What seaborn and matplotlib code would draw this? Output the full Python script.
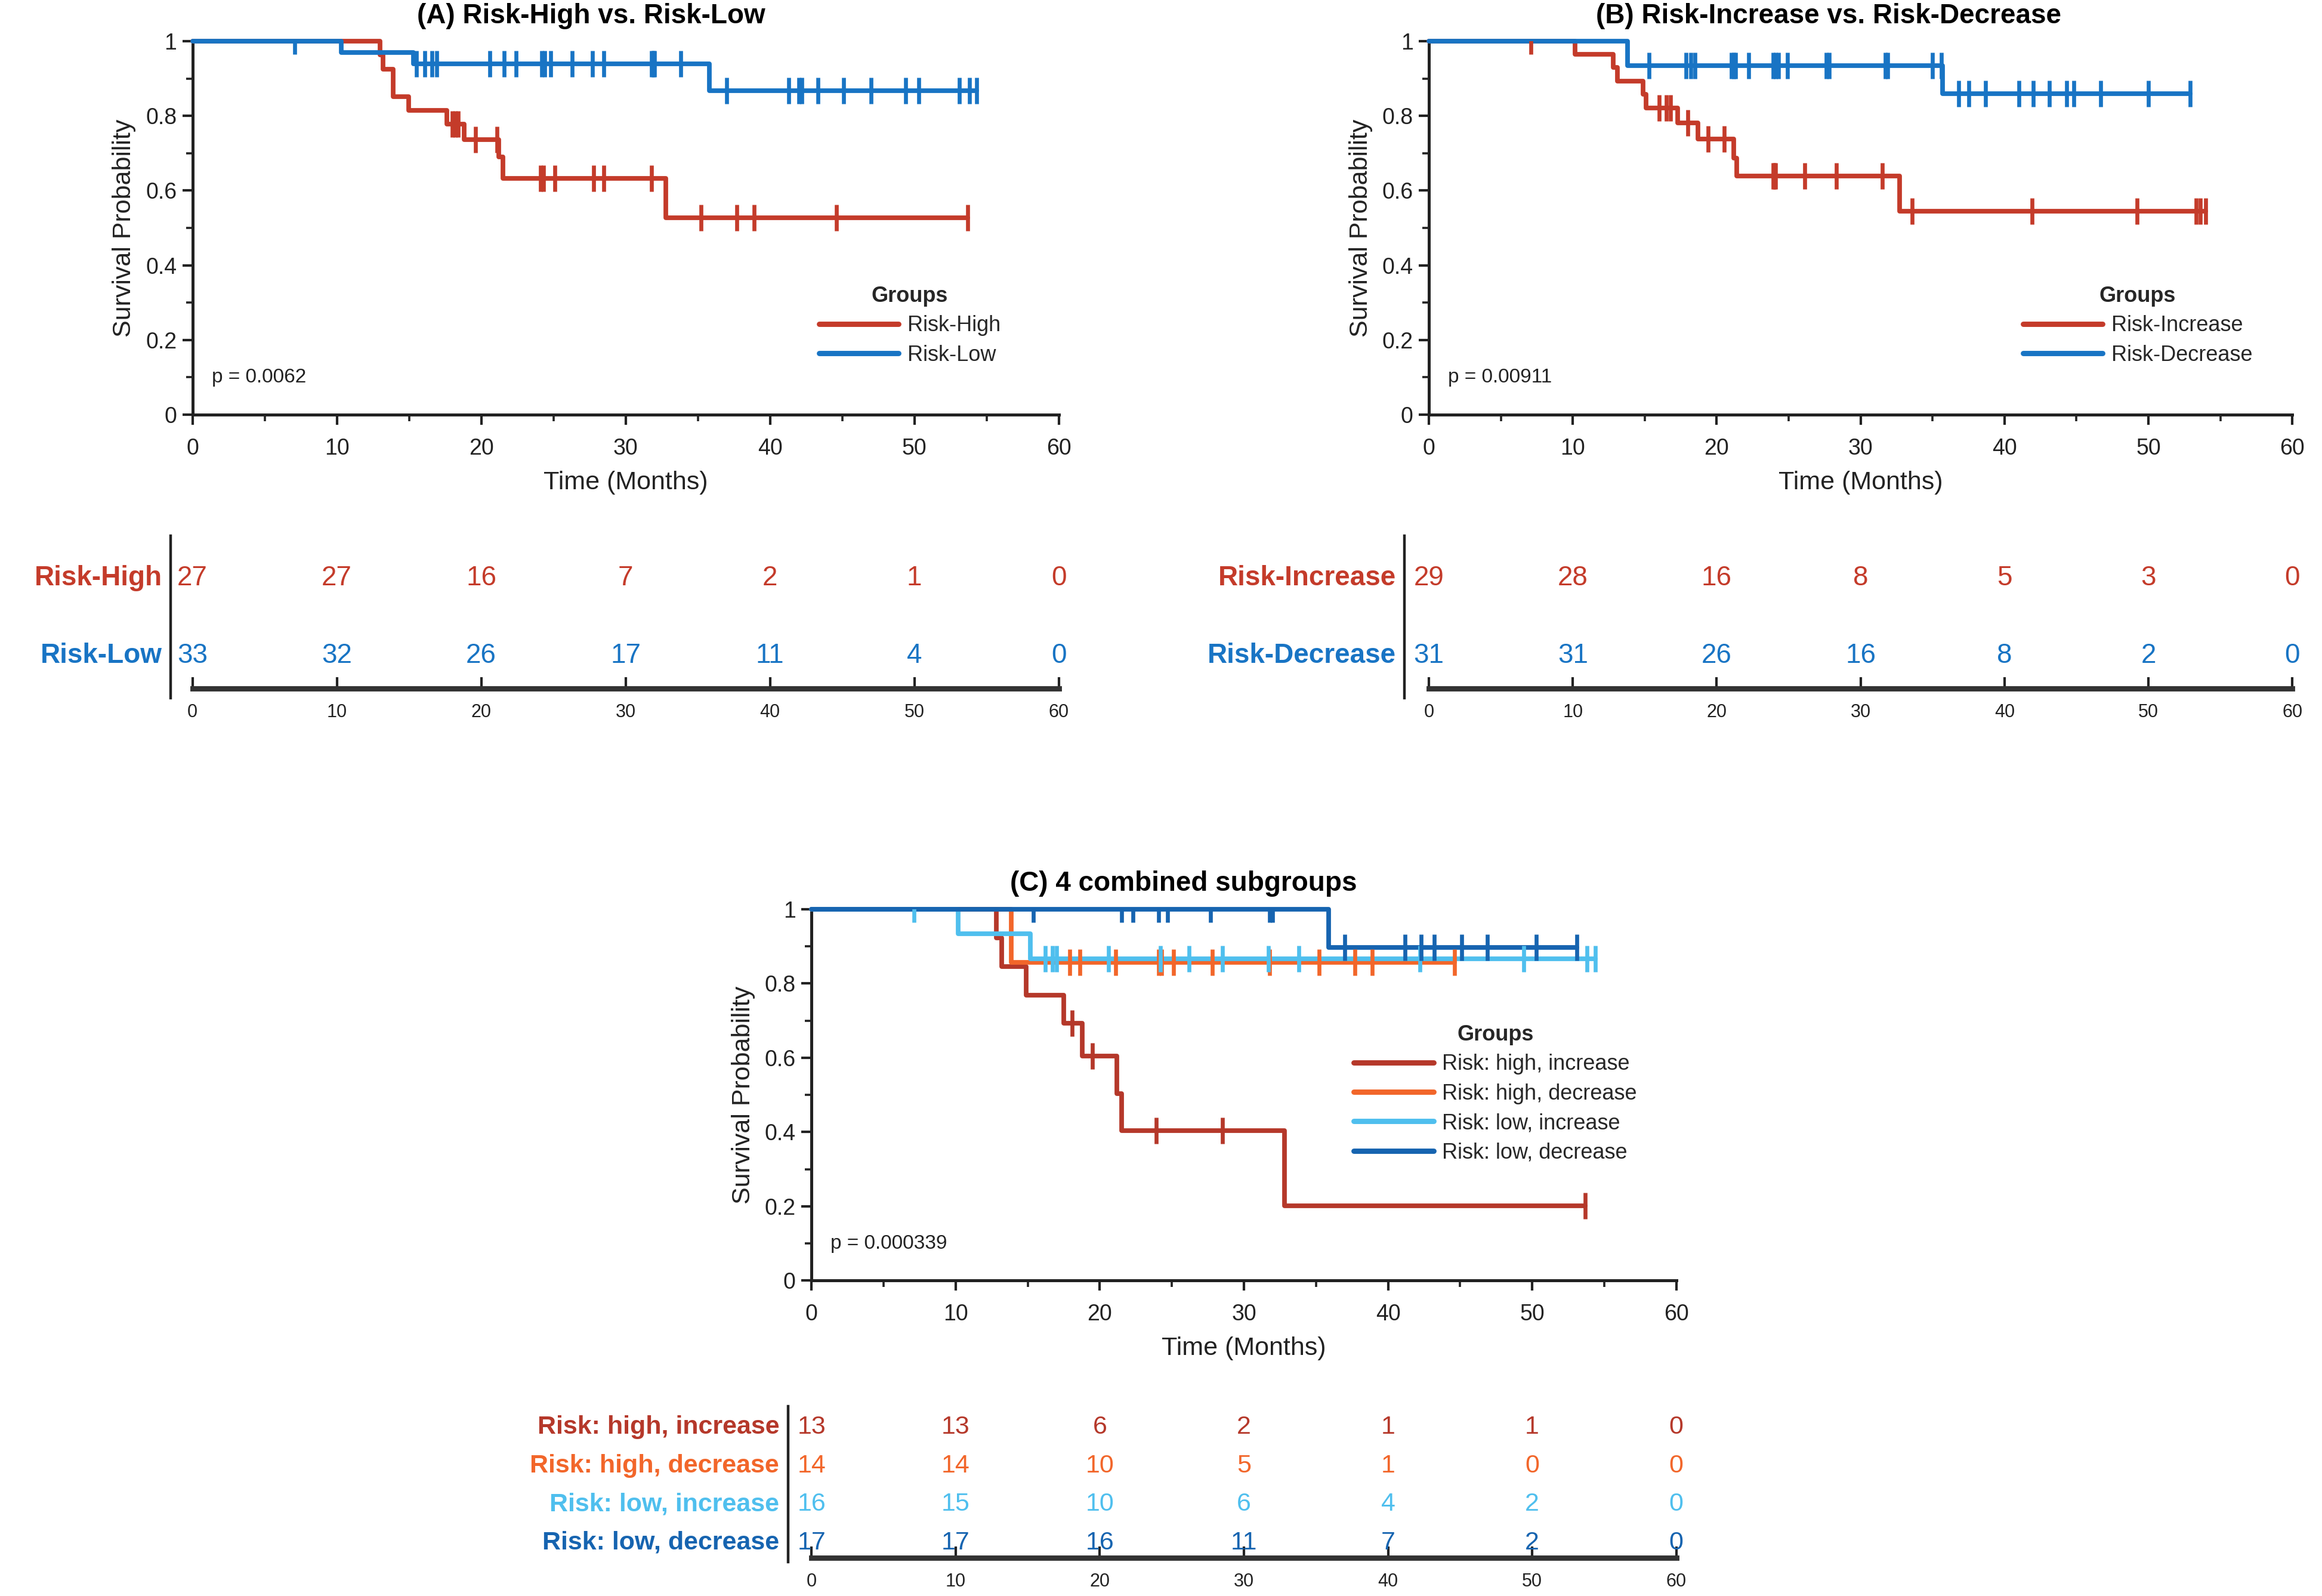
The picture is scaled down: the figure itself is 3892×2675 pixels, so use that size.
import numpy as np
import pandas as pd
import matplotlib.pyplot as plt
import seaborn as sns
from matplotlib.ticker import MultipleLocator, FuncFormatter

# ---- Panel A : Risk-High vs Risk-Low (event times, survival after each step, censor times) ----
high_t = [0, 12.97, 13.2, 13.9, 14.96, 17.6, 18.8, 21.2, 21.5, 32.8]
high_s = [1, 0.963, 0.926, 0.852, 0.815, 0.778, 0.736, 0.69, 0.633, 0.527]
high_cens = [18.0, 18.2, 18.4, 19.6, 21.1, 24.1, 24.3, 25.1, 27.8, 28.5, 31.8,
             35.2, 37.7, 38.9, 44.6, 53.7]
low_t = [0, 10.3, 15.3, 35.8]
low_s = [1, 0.970, 0.939, 0.868]
low_cens = [7.1, 15.5, 16.1, 16.6, 16.9, 20.6, 21.6, 22.4, 24.2, 24.4, 24.8, 26.3,
            27.7, 28.5, 31.8, 31.9, 32.0, 33.8, 37.0, 41.3, 42.0, 42.2, 43.3, 45.1,
            47.0, 49.4, 50.3, 53.1, 53.8, 54.3]

# ---- Panel B : Risk-Increase vs Risk-Decrease ----
inc_t = [0, 10.15, 12.8, 13.1, 14.9, 15.1, 17.3, 18.7, 21.2, 21.4, 32.7]
inc_s = [1, 0.966, 0.930, 0.894, 0.858, 0.822, 0.781, 0.738, 0.687, 0.639, 0.545]
inc_cens = [7.1, 16.0, 16.5, 16.8, 18.0, 19.4, 20.5, 23.9, 24.0, 24.1, 26.1, 28.3,
            31.5, 33.6, 41.9, 49.2, 53.3, 53.6, 54.0]
dec_t = [0, 13.8, 35.7]
dec_s = [1, 0.935, 0.860]
dec_cens = [15.3, 17.85, 18.2, 18.5, 21.0, 21.2, 21.3, 22.2, 23.9, 24.1, 24.3, 24.9,
            27.6, 27.8, 31.7, 31.9, 35.0, 35.6, 36.8, 37.5, 38.7, 41.0, 42.0, 43.1,
            44.3, 44.8, 46.7, 50.0, 52.9]

# ---- Panel C : 4 combined subgroups ----
hi_inc_t = [0, 12.83, 13.2, 14.9, 17.5, 18.8, 21.2, 21.5, 32.8]
hi_inc_s = [1, 0.923, 0.846, 0.769, 0.692, 0.605, 0.504, 0.403, 0.202]
hi_inc_cens = [18.1, 19.5, 23.9, 28.5, 53.7]
hi_dec_t = [0, 13.86]
hi_dec_s = [1, 0.857]
hi_dec_cens = [17.9, 18.6, 21.1, 24.1, 24.3, 25.1, 27.8, 31.8, 35.2, 37.7, 38.9, 44.6]
lo_inc_t = [0, 10.16, 15.2]
lo_inc_s = [1, 0.933, 0.867]
lo_inc_cens = [7.1, 16.2, 16.7, 17.0, 20.6, 24.2, 26.2, 28.5, 31.7, 33.8, 42.2, 49.4,
               53.8, 54.4]
lo_dec_t = [0, 35.9]
lo_dec_s = [1, 0.897]
lo_dec_cens = [15.4, 21.5, 22.3, 24.1, 24.7, 27.7, 31.8, 32.0, 37.0, 41.2, 42.3, 43.2,
               45.1, 46.9, 50.3, 53.1]

# ---- numbers at risk ----
table_times = [0, 10, 20, 30, 40, 50, 60]
risk_high_n = [27, 27, 16, 7, 2, 1, 0]
risk_low_n = [33, 32, 26, 17, 11, 4, 0]
risk_inc_n = [29, 28, 16, 8, 5, 3, 0]
risk_dec_n = [31, 31, 26, 16, 8, 2, 0]
hi_inc_n = [13, 13, 6, 2, 1, 1, 0]
hi_dec_n = [14, 14, 10, 5, 1, 0, 0]
lo_inc_n = [16, 15, 10, 6, 4, 2, 0]
lo_dec_n = [17, 17, 16, 11, 7, 2, 0]

labels_a = ['Risk-High', 'Risk-Low']
labels_b = ['Risk-Increase', 'Risk-Decrease']
labels_c = ['Risk: high, increase', 'Risk: high, decrease',
            'Risk: low, increase', 'Risk: low, decrease']
p_values = ['p = 0.0062', 'p = 0.00911', 'p = 0.000339']

RED = '#c43b2a'
BLUE = '#1874c4'
C_COLORS = ['#b5382a', '#f2662a', '#4fbfee', '#1664b0']
INK = '#222222'

sns.set_theme(style='white')
plt.rcParams['font.family'] = ['Liberation Sans', 'DejaVu Sans']

fig = plt.figure(figsize=(19.46, 13.375), dpi=200, facecolor='white')


def draw_curve(ax, t, s, cens, color, label):
    end = max(max(cens), t[-1])
    df = pd.DataFrame({'time': list(t) + [end], 'surv': list(s) + [s[-1]]})
    sns.lineplot(data=df, x='time', y='surv', drawstyle='steps-post', color=color,
                 lw=2.8, label=label, estimator=None, sort=False, ax=ax,
                 clip_on=False, zorder=3)
    # censor ticks sit on the curve; clipped at the top like the original
    idx = np.searchsorted(t, cens, side='right') - 1
    cy = np.asarray(s)[idx]
    sns.scatterplot(x=cens, y=cy, marker='|', s=260, linewidth=2.4, color=color,
                    ax=ax, legend=False, zorder=4)


def style_km(ax, title, title_x, pval, leg_anchor):
    ax.set_xlim(0, 60)
    ax.set_ylim(0, 1)
    sns.despine(ax=ax)
    for side in ['left', 'bottom']:
        ax.spines[side].set_linewidth(1.8)
        ax.spines[side].set_color(INK)
    ax.set_xticks(range(0, 61, 10))
    ax.set_yticks(np.arange(0, 1.01, 0.2))
    ax.xaxis.set_minor_locator(MultipleLocator(5))
    ax.yaxis.set_minor_locator(MultipleLocator(0.1))
    ax.yaxis.set_major_formatter(FuncFormatter(lambda v, p: f'{v:g}'))
    ax.tick_params(which='major', direction='out', length=6, width=1.5,
                   labelsize=13.5, colors=INK, bottom=True, left=True)
    ax.tick_params(axis='x', which='major', pad=8)
    ax.tick_params(which='minor', direction='out', length=4, width=1.3,
                   colors=INK, bottom=True, left=True)
    ax.set_xlabel('Time (Months)', fontsize=15.5, color=INK)
    ax.set_ylabel('Survival Probability', fontsize=15.5, color=INK)
    ax.xaxis.set_label_coords(0.5, -0.15)
    ax.yaxis.set_label_coords(-0.065, 0.5)
    ax.set_title(title, fontsize=16.5, fontweight='bold', x=title_x, pad=11, color='black')
    ax.text(0.022, 0.1, pval, transform=ax.transAxes, fontsize=12, va='center', color=INK)
    leg = ax.legend(title='Groups', loc='upper left', bbox_to_anchor=leg_anchor,
                    frameon=False, fontsize=13, title_fontsize=13, handlelength=3.7,
                    labelspacing=0.4, handletextpad=0.4, borderpad=0, borderaxespad=0)
    leg.get_title().set_fontweight('bold')
    for h in leg.get_lines():
        h.set_linewidth(3.2)


def risk_table(tax, labels, counts, colors, ylim, spine_x, fs):
    tax.set_xlim(0, 60)
    tax.set_ylim(ylim)
    n = len(labels)
    for i, (lab, cnt, c) in enumerate(zip(labels, counts, colors)):
        y = n - i
        tax.text(spine_x - 0.6, y, lab, ha='right', va='center', color=c,
                 fontweight='bold', fontsize=fs)
        for tt, v in zip(table_times, cnt):
            tax.text(tt, y, str(v), ha='center', va='center', color=c, fontsize=fs)
    for side in ['top', 'right']:
        tax.spines[side].set_visible(False)
    tax.spines['left'].set_position(('data', spine_x))
    tax.spines['left'].set_bounds(ylim[0] - 0.12, ylim[1])
    tax.spines['left'].set_linewidth(1.6)
    tax.spines['left'].set_color(INK)
    tax.spines['bottom'].set_bounds(0, 60)
    tax.spines['bottom'].set_linewidth(3.2)
    tax.spines['bottom'].set_color('#333333')
    tax.set_yticks([])
    tax.set_xticks(table_times)
    tax.tick_params(axis='x', direction='in', length=7, width=1.5, labelsize=11,
                    colors=INK, pad=9, bottom=True)
    tax.set_facecolor('none')


# ---- panel A ----
axA = fig.add_axes([0.0829, 0.7403, 0.3731, 0.2338])
draw_curve(axA, high_t, high_s, high_cens, RED, labels_a[0])
draw_curve(axA, low_t, low_s, low_cens, BLUE, labels_a[1])
style_km(axA, '(A) Risk-High vs. Risk-Low', 0.46, p_values[0], (0.723, 0.345))

tA = fig.add_axes([0.0829, 0.5686, 0.3731, 0.0956])
risk_table(tA, labels_a, [risk_high_n, risk_low_n], [RED, BLUE], (0.58, 2.54), -1.5, 16.5)

# ---- panel B ----
axB = fig.add_axes([0.6154, 0.7403, 0.3718, 0.2338])
draw_curve(axB, inc_t, inc_s, inc_cens, RED, labels_b[0])
draw_curve(axB, dec_t, dec_s, dec_cens, BLUE, labels_b[1])
style_km(axB, '(B) Risk-Increase vs. Risk-Decrease', 0.463, p_values[1], (0.688, 0.345))

tB = fig.add_axes([0.6154, 0.5686, 0.3718, 0.0956])
risk_table(tB, labels_b, [risk_inc_n, risk_dec_n], [RED, BLUE], (0.58, 2.54), -1.7, 16.5)

# ---- panel C ----
axC = fig.add_axes([0.3495, 0.1976, 0.3724, 0.2328])
c_groups = [(hi_inc_t, hi_inc_s, hi_inc_cens), (hi_dec_t, hi_dec_s, hi_dec_cens),
            (lo_inc_t, lo_inc_s, lo_inc_cens), (lo_dec_t, lo_dec_s, lo_dec_cens)]
for (t, s, cens), c, lab in zip(c_groups, C_COLORS, labels_c):
    draw_curve(axC, t, s, cens, c, lab)
style_km(axC, '(C) 4 combined subgroups', 0.43, p_values[2], (0.627, 0.69))

tC = fig.add_axes([0.3495, 0.0241, 0.3724, 0.0946])
risk_table(tC, labels_c, [hi_inc_n, hi_dec_n, lo_inc_n, lo_dec_n], C_COLORS,
           (0.616, 4.536), -1.64, 15.5)

fig.savefig('out.png', dpi=200, facecolor='white')
